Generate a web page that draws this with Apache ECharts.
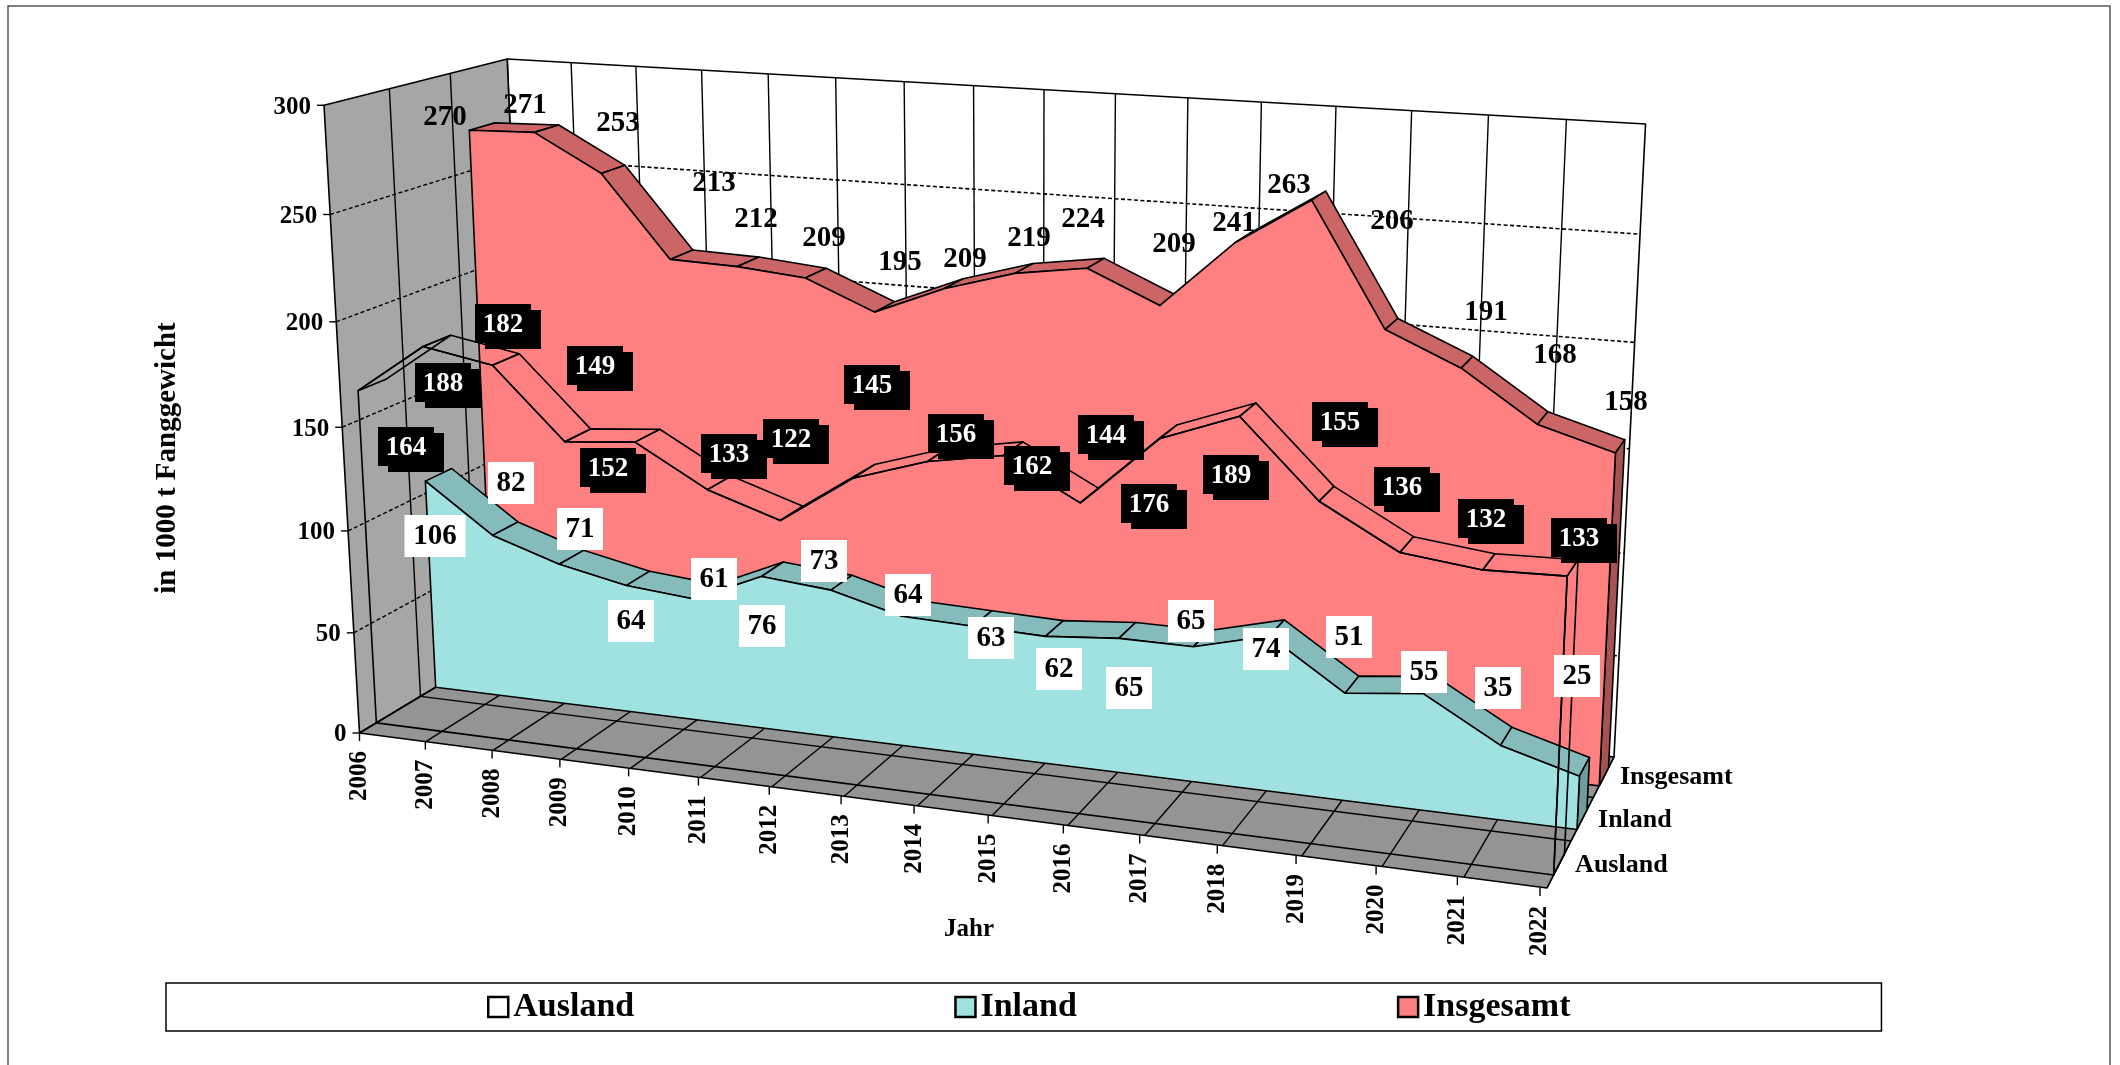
<!DOCTYPE html>
<html>
<head>
<meta charset="utf-8">
<title>Fanggewicht</title>
<style>html,body{margin:0;padding:0;background:#fff}#main{width:2120px;height:1065px}</style>
<script src="https://cdn.jsdelivr.net/npm/echarts@6/dist/echarts.min.js"></script>
</head>
<body>
<div id="main"></div>
<script>
var years = ['2006','2007','2008','2009','2010','2011','2012','2013','2014','2015','2016','2017','2018','2019','2020','2021','2022'];
var ausland = [164,188,182,149,152,133,122,145,156,162,144,176,189,155,136,132,133];
var inland = [106,82,71,64,61,76,73,64,63,62,65,65,74,51,55,35,25];
var insgesamt = [270,271,253,213,212,209,195,209,219,224,209,241,263,206,191,168,158];
var valueTicks = [0,50,100,150,200,250,300];
var depthNames = ['Ausland','Inland','Insgesamt'];

// where Excel dropped the data labels (centre of each label, page pixels)
var auslandLabelPos = [[406,447],[443,383],[503,324],[595,366],[608,468],[729,454],[791,439],[872,385],[956,434],[1032,466],[1106,435],[1149,504],[1231,475],[1340,422],[1402,487],[1486,519],[1579,538]];
var inlandLabelPos = [[435,536],[511,483],[580,529],[631,621],[714,579],[762,626],[824,561],[908,595],[991,638],[1059,669],[1129,688],[1191,621],[1266,649],[1349,637],[1424,672],[1498,688],[1577,676]];
var insgesamtLabelPos = [[445,118],[525,106],[618,124],[714,184],[756,220],[824,239],[900,263],[965,260],[1029,239],[1083,220],[1174,245],[1234,224],[1289,186],[1392,222],[1486,313],[1555,356],[1626,403]];

// corners of the 3d box on the page
var FL = [359.5,733], FR = [1547,888], BR = [1614,757], BL = [531,630];
var topFL = [326,108], topBL = [505,61], topBR = [1646,119];
var GRID = {left:100, top:100, width:1000, height:600};

var FONT = '"Liberation Serif"';
var INK = '#000';

// floor homography (x,z) -> page
var den = (FR[0]-BR[0])*(BL[1]-BR[1]) - (BL[0]-BR[0])*(FR[1]-BR[1]);
var sx = FL[0]-FR[0]+BR[0]-BL[0], sy = FL[1]-FR[1]+BR[1]-BL[1];
var g = (sx*(BL[1]-BR[1]) - (BL[0]-BR[0])*sy)/den;
var h = ((FR[0]-BR[0])*sy - sx*(FR[1]-BR[1]))/den;
var a = FR[0]-FL[0]+g*FR[0], b = BL[0]-FL[0]+h*BL[0], c = FL[0];
var d = FR[1]-FL[1]+g*FR[1], e = BL[1]-FL[1]+h*BL[1], f = FL[1];

// height column of the camera, least squares over the three known top corners
function solveHeight(){
    var pts = [[0,0,topFL],[0,1,topBL],[1,1,topBR]];
    var M = [[0,0,0],[0,0,0],[0,0,0]], r = [0,0,0];
    pts.forEach(function(p){
        var w = g*p[0]+h*p[1]+1;
        var nu = a*p[0]+b*p[1]+c, nv = d*p[0]+e*p[1]+f;
        var rows = [[1,0,-p[2][0],p[2][0]*w-nu],[0,1,-p[2][1],p[2][1]*w-nv]];
        rows.forEach(function(q){
            for(var i=0;i<3;i++){
                r[i] += q[i]*q[3];
                for(var j=0;j<3;j++) M[i][j] += q[i]*q[j];
            }
        });
    });
    function det(m){
        return m[0][0]*(m[1][1]*m[2][2]-m[1][2]*m[2][1])
             - m[0][1]*(m[1][0]*m[2][2]-m[1][2]*m[2][0])
             + m[0][2]*(m[1][0]*m[2][1]-m[1][1]*m[2][0]);
    }
    var D = det(M), out = [];
    for(var k=0;k<3;k++){
        var T = M.map(function(row,i){ var t=row.slice(); t[k]=r[i]; return t; });
        out.push(det(T)/D);
    }
    return out;
}
var H = solveHeight();

function proj3(x,y,z){
    var w = g*x+h*z+1+H[2]*y;
    return [(a*x+b*z+c+H[0]*y)/w, (d*x+e*z+f+H[1]*y)/w];
}
// category index + value go through the hidden axes, depth is the third coordinate
function project(api,i,v,z){
    var p = api.coord([i,v]);
    return proj3((p[0]-GRID.left)/GRID.width, (GRID.top+GRID.height-p[1])/GRID.height, z);
}

function poly(points,fill,z2,lw){
    return {type:'polygon', z2:z2||0, shape:{points:points}, style:{fill:fill, stroke:INK, lineWidth:lw||1.6, lineJoin:'round'}};
}
function seg(p,q,dash,lw,z2){
    return {type:'line', z2:z2||0, shape:{x1:p[0],y1:p[1],x2:q[0],y2:q[1]}, style:{stroke:INK, lineWidth:lw||1.4, lineDash:dash?[4,2.5]:null}};
}
function txt(x,y,s,size,align,rot,color){
    return {type:'text', x:x, y:y, rotation:rot||0, z2:5, style:{x:0, y:0, text:s, fill:color||INK, font:'bold '+size+'px '+FONT, align:align||'center', verticalAlign:'middle'}};
}

function renderBox(params,api){
    var n = years.length-1, kids = [];
    var maxV = valueTicks[valueTicks.length-1];
    kids.push(poly([project(api,0,0,1),project(api,n,0,1),project(api,n,maxV,1),project(api,0,maxV,1)],'#fff',0));
    kids.push(poly([project(api,0,0,0),project(api,0,maxV,0),project(api,0,maxV,1),project(api,0,0,1)],'#a6a6a6',0));
    kids.push(poly([project(api,0,0,0),project(api,n,0,0),project(api,n,0,1),project(api,0,0,1)],'#949494',0));
    var i;
    for(i=1;i<n;i++){
        kids.push(seg(project(api,i,0,1),project(api,i,maxV,1),false,1.4,1));
    }
    for(i=0;i<=n;i++){
        kids.push(seg(project(api,i,0,0),project(api,i,0,1),false,1.4,1));
    }
    [1/3,2/3].forEach(function(z){
        kids.push(seg(project(api,0,0,z),project(api,0,maxV,z),false,1.4,1));
        kids.push(seg(project(api,0,0,z),project(api,n,0,z),false,1.4,1));
    });
    valueTicks.forEach(function(v){
        if(v>0 && v<maxV){
            kids.push(seg(project(api,0,v,0),project(api,0,v,1),true,1.4,1));
            kids.push(seg(project(api,0,v,1),project(api,n,v,1),true,1.6,1));
        }
        var p = project(api,0,v,0);
        kids.push(seg([p[0]-7,p[1]],p,false,1.4,2));
        kids.push(txt(p[0]-13,p[1]+2,String(v),25,'right'));
    });
    years.forEach(function(y,k){
        var p = project(api,k,0,0);
        // Excel's ticks creep left of the floor lines towards the right end
        var tx = p[0]-7*k/n;
        kids.push(seg([tx,p[1]],[tx,p[1]+8],false,1.4,2));
        kids.push(txt(tx,p[1]+18,y,25,'right',Math.PI/2));
    });
    depthNames.forEach(function(name,k){
        var p = project(api,n,0,slabs[k][0]/2+slabs[k][1]/2);
        kids.push(txt(p[0]+16,p[1]+1,name,26,'left'));
    });
    return {type:'group', children:kids};
}

// front and back depth of each series slab
var slabs = [[0.09,0.24],[0.42,0.57],[0.76,0.91]];

function slabRenderer(values,slab,front,top,side){
    return function(params,api){
        var i = params.dataIndex, n = values.length-1, kids = [];
        var z0 = slab[0], z1 = slab[1];
        if(i<n){
            kids.push(poly([project(api,i,values[i],z0),project(api,i+1,values[i+1],z0),project(api,i+1,values[i+1],z1),project(api,i,values[i],z1)],top,1));
        }
        if(i===n){
            kids.push(poly([project(api,n,0,z0),project(api,n,values[n],z0),project(api,n,values[n],z1),project(api,n,0,z1)],side,1));
            var pts = [project(api,0,0,z0)];
            values.forEach(function(v,k){ pts.push(project(api,k,v,z0)); });
            pts.push(project(api,n,0,z0));
            kids.push(poly(pts,front,2));
        }
        return {type:'group', children:kids};
    };
}

function labelItem(x,y,s,kind){
    var w = s.length>2 ? 61 : 46;
    if(kind==='white'){
        return {type:'group', children:[
            {type:'rect', z2:4, shape:{x:x-w/2,y:y-21,width:w,height:42}, style:{fill:'#fff'}},
            txt(x,y+1,s,29)
        ]};
    }
    if(kind==='black'){
        return {type:'group', children:[
            {type:'rect', z2:3, shape:{x:x-23+5,y:y-20+6,width:56,height:39}, style:{fill:'#000'}},
            {type:'rect', z2:4, shape:{x:x-28,y:y-20,width:56,height:39}, style:{fill:'#000'}},
            txt(x,y+1,s,27,'center',0,'#fff')
        ]};
    }
    return txt(x,y,s,29);
}

function pairs(values){
    return values.map(function(v,i){ return [i,v]; });
}
function labelRenderer(values,pos,kind){
    return function(params,api){
        var i = params.dataIndex;
        return labelItem(pos[i][0],pos[i][1],String(values[i]),kind);
    };
}

var myChart = echarts.init(document.getElementById('main'));
myChart.setOption({
    animation: false,
    backgroundColor: '#fff',
    grid: {left:GRID.left, top:GRID.top, width:GRID.width, height:GRID.height},
    xAxis: {type:'category', data:years, boundaryGap:false, show:false},
    yAxis: {type:'value', min:0, max:300, interval:50, show:false},
    legend: {
        left: 166,
        top: 983,
        padding: [7,311,7,321],
        itemGap: 320,
        itemWidth: 20,
        itemHeight: 20,
        borderColor: '#000',
        borderWidth: 1.5,
        selectedMode: false,
        textStyle: {fontFamily:FONT, fontWeight:'bold', fontSize:34, color:'#000'},
        data: [
            {name:'Ausland', icon:'rect', itemStyle:{color:'#fff', borderColor:'#000', borderWidth:2.5}},
            {name:'Inland', icon:'rect', itemStyle:{color:'#a0e2e0', borderColor:'#000', borderWidth:2.5}},
            {name:'Insgesamt', icon:'rect', itemStyle:{color:'#ff8080', borderColor:'#000', borderWidth:2.5}}
        ]
    },
    graphic: [
        {type:'rect', silent:true, shape:{x:8,y:6,width:2102,height:1075}, style:{fill:null, stroke:'#555', lineWidth:1.5}},
        {type:'text', x:168, y:458, rotation:Math.PI/2, style:{text:'in 1000 t Fanggewicht', font:'bold 29px '+FONT, fill:'#000', align:'center', verticalAlign:'middle'}},
        {type:'text', x:969, y:930, style:{text:'Jahr', font:'bold 25px '+FONT, fill:'#000', align:'center', verticalAlign:'middle'}}
    ],
    series: [
        {type:'custom', name:'box', z:1, silent:true, data:[[0,0]], renderItem:renderBox},
        {type:'custom', name:'Insgesamt', z:2, silent:true, data:pairs(insgesamt), itemStyle:{color:'#ff8080'},
            renderItem:slabRenderer(insgesamt,slabs[2],'#ff8080','#cc6666','#a65353')},
        {type:'custom', name:'Inland', z:3, silent:true, data:pairs(inland), itemStyle:{color:'#a0e2e0'},
            renderItem:slabRenderer(inland,slabs[1],'#a0e2e0','#86bbbb','#6f9c9c')},
        {type:'custom', name:'Ausland', z:4, silent:true, data:pairs(ausland), itemStyle:{color:'#fff'},
            renderItem:slabRenderer(ausland,slabs[0],'transparent','transparent','transparent')},
        {type:'custom', name:'insgesamtLabels', z:5, silent:true, data:pairs(insgesamt), renderItem:labelRenderer(insgesamt,insgesamtLabelPos,'plain')},
        {type:'custom', name:'inlandLabels', z:6, silent:true, data:pairs(inland), renderItem:labelRenderer(inland,inlandLabelPos,'white')},
        {type:'custom', name:'auslandLabels', z:7, silent:true, data:pairs(ausland), renderItem:labelRenderer(ausland,auslandLabelPos,'black')}
    ]
});
</script>
</body>
</html>
